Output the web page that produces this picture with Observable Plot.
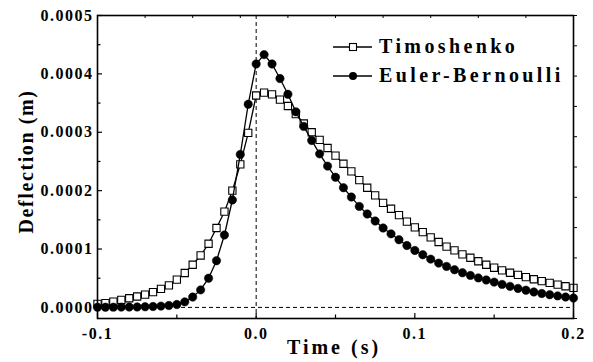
<!DOCTYPE html>
<html>
<head>
<meta charset="utf-8">
<script src="https://cdn.jsdelivr.net/npm/d3@7"></script>
<script src="https://cdn.jsdelivr.net/npm/@observablehq/plot@0.6"></script>
<style>
  html, body { margin: 0; padding: 0; background: #fff; }
  #chart svg text { font-family: "Liberation Serif", "Times New Roman", serif; font-weight: bold; }
</style>
</head>
<body>
<div id="chart"></div>
<script>
// ---- data ----
const time = [
  -0.100, -0.095, -0.090, -0.085, -0.080, -0.075, -0.070, -0.065, -0.060, -0.055,
  -0.050, -0.045, -0.040, -0.035, -0.030, -0.025, -0.020, -0.015, -0.010, -0.005,
   0.000,  0.005,  0.010,  0.015,  0.020,  0.025,  0.030,  0.035,  0.040,  0.045,
   0.050,  0.055,  0.060,  0.065,  0.070,  0.075,  0.080,  0.085,  0.090,  0.095,
   0.100,  0.105,  0.110,  0.115,  0.120,  0.125,  0.130,  0.135,  0.140,  0.145,
   0.150,  0.155,  0.160,  0.165,  0.170,  0.175,  0.180,  0.185,  0.190,  0.195,
   0.200
];
const timoshenko = [
  0.0000060, 0.0000074, 0.0000100, 0.0000128, 0.0000157, 0.0000187, 0.0000218, 0.0000262, 0.0000318, 0.0000378,
  0.0000475, 0.0000590, 0.0000730, 0.0000890, 0.0001090, 0.0001360, 0.0001640, 0.0002000, 0.0002450, 0.0002990,
  0.0003630, 0.0003680, 0.0003650, 0.0003560, 0.0003450, 0.0003310, 0.0003150, 0.0003000, 0.0002870, 0.0002730,
  0.0002600, 0.0002460, 0.0002330, 0.0002180, 0.0002050, 0.0001920, 0.0001790, 0.0001690, 0.0001580, 0.0001470,
  0.0001370, 0.0001290, 0.0001200, 0.0001120, 0.0001040, 0.0000976, 0.0000908, 0.0000851, 0.0000790, 0.0000731,
  0.0000680, 0.0000634, 0.0000594, 0.0000558, 0.0000519, 0.0000482, 0.0000450, 0.0000420, 0.0000390, 0.0000362,
  0.0000335
];
const eulerBernoulli = [
  0.0000003, 0.0000003, 0.0000004, 0.0000005, 0.0000006, 0.0000008, 0.0000011, 0.0000015, 0.0000022, 0.0000032,
  0.0000050, 0.0000095, 0.0000177, 0.0000300, 0.0000500, 0.0000800, 0.0001240, 0.0001840, 0.0002620, 0.0003480,
  0.0004170, 0.0004330, 0.0004170, 0.0003920, 0.0003650, 0.0003350, 0.0003100, 0.0002860, 0.0002630, 0.0002420,
  0.0002230, 0.0002050, 0.0001890, 0.0001730, 0.0001600, 0.0001480, 0.0001360, 0.0001260, 0.0001160, 0.0001060,
  0.0000976, 0.0000902, 0.0000827, 0.0000759, 0.0000702, 0.0000645, 0.0000594, 0.0000548, 0.0000505, 0.0000470,
  0.0000433, 0.0000394, 0.0000360, 0.0000325, 0.0000295, 0.0000265, 0.0000238, 0.0000217, 0.0000197, 0.0000178,
  0.0000160
];
const seriesNames = ["Timoshenko", "Euler-Bernoulli"];
const xTickLabels = [-0.1, 0.0, 0.1, 0.2];
const xMinorTicks = [-0.05, 0.05, 0.15];
const yTickLabels = [0.0000, 0.0001, 0.0002, 0.0003, 0.0004, 0.0005];
const yMinorTicks = [0.00005, 0.00015, 0.00025, 0.00035, 0.00045];
const xDomain = [-0.1, 0.2];
const yDomain = [-0.000019, 0.0005];
const xLabel = "Time (s)";
const yLabel = "Deflection (m)";

// ---- build ----
const timoData = time.map((t, i) => ({t, v: timoshenko[i]}));
const eulerData = time.map((t, i) => ({t, v: eulerBernoulli[i]}));
// top / right axes of the original divide the domain into ten parts
const xTopTicks = d3.range(11).map(k => xDomain[0] + k * (xDomain[1] - xDomain[0]) / 10);
const yRightTicks = d3.range(11).map(k => yDomain[0] + k * (yDomain[1] - yDomain[0]) / 10);

const W = 593, H = 362;
const mL = 97, mR = 20, mT = 15, mB = 44;
const pw = W - mL - mR, ph = H - mT - mB;

const plot = Plot.plot({
  width: W, height: H,
  marginLeft: mL, marginRight: mR, marginTop: mT, marginBottom: mB,
  style: {background: "white", color: "black", fontFamily: "Liberation Serif", fontSize: "16px", fontWeight: "bold", letterSpacing: "1.5px"},
  x: {domain: xDomain},
  y: {domain: yDomain},
  marks: [
    Plot.ruleX([0], {stroke: "black", strokeWidth: 1, strokeDasharray: "4,3"}),
    Plot.ruleY([0], {stroke: "black", strokeWidth: 1, strokeDasharray: "4,3"}),
    // tick labels
    Plot.axisX({ticks: xTickLabels, tickSize: 0, tickPadding: 9, tickFormat: d => d.toFixed(1), label: null}),
    Plot.axisY({ticks: yTickLabels, tickSize: 0, tickPadding: 4, tickFormat: d => d.toFixed(4), label: null}),
    // inward ticks
    Plot.tickX(xTickLabels, {x: d => d, insetTop: ph - 5, stroke: "black", strokeWidth: 1.2}),
    Plot.tickX(xMinorTicks, {x: d => d, insetTop: ph - 3.5, stroke: "black", strokeWidth: 1.2}),
    Plot.tickX(xTopTicks, {x: d => d, insetBottom: ph - 3, stroke: "black", strokeWidth: 1}),
    Plot.tickY(yTickLabels, {y: d => d, insetRight: pw - 5, stroke: "black", strokeWidth: 1.2}),
    Plot.tickY(yMinorTicks, {y: d => d, insetRight: pw - 3.5, stroke: "black", strokeWidth: 1.2}),
    Plot.axisY({anchor: "right", ticks: yRightTicks, tickSize: 3, tickFormat: () => "", label: null}),
    // series
    Plot.line(timoData, {x: "t", y: "v", stroke: "black", strokeWidth: 1.3}),
    Plot.dot(timoData, {x: "t", y: "v", symbol: "square", r: 4.1, fill: "white", stroke: "black", strokeWidth: 1.1}),
    Plot.line(eulerData, {x: "t", y: "v", stroke: "black", strokeWidth: 1.3}),
    Plot.dot(eulerData, {x: "t", y: "v", symbol: "circle", r: 4.2, fill: "black", stroke: "black", strokeWidth: 0.5}),
    Plot.frame({stroke: "black", strokeWidth: 1.6})
  ]
});
document.getElementById("chart").appendChild(plot);

// ---- axis titles and legend ----
const svg = d3.select(plot);
svg.append("text")
  .attr("x", mL + pw / 2 - 1).attr("y", 354)
  .attr("text-anchor", "middle")
  .style("font-size", "20px").style("letter-spacing", "3px")
  .text(xLabel);
svg.append("text")
  .attr("transform", `translate(33, ${mT + ph / 2 - 5}) rotate(-90)`)
  .attr("text-anchor", "middle")
  .style("font-size", "20px").style("letter-spacing", "1.6px")
  .text(yLabel);

const leg = svg.append("g").attr("text-anchor", "start");
const rows = [
  {name: seriesNames[0], y: 47, sym: "square"},
  {name: seriesNames[1], y: 76, sym: "circle"}
];
rows.forEach(r => {
  leg.append("line").attr("x1", 333).attr("x2", 372).attr("y1", r.y).attr("y2", r.y)
    .attr("stroke", "black").attr("stroke-width", 1.3);
  if (r.sym === "square") {
    leg.append("rect").attr("x", 349.5).attr("y", r.y - 3.5).attr("width", 7).attr("height", 7)
      .attr("fill", "white").attr("stroke", "black").attr("stroke-width", 1.1);
  } else {
    leg.append("circle").attr("cx", 353).attr("cy", r.y).attr("r", 4).attr("fill", "black");
  }
  leg.append("text").attr("x", 379).attr("y", r.y + 6)
    .attr("text-anchor", "start")
    .style("font-size", "20px").style("letter-spacing", "3.4px")
    .text(r.name);
});
</script>
</body>
</html>
